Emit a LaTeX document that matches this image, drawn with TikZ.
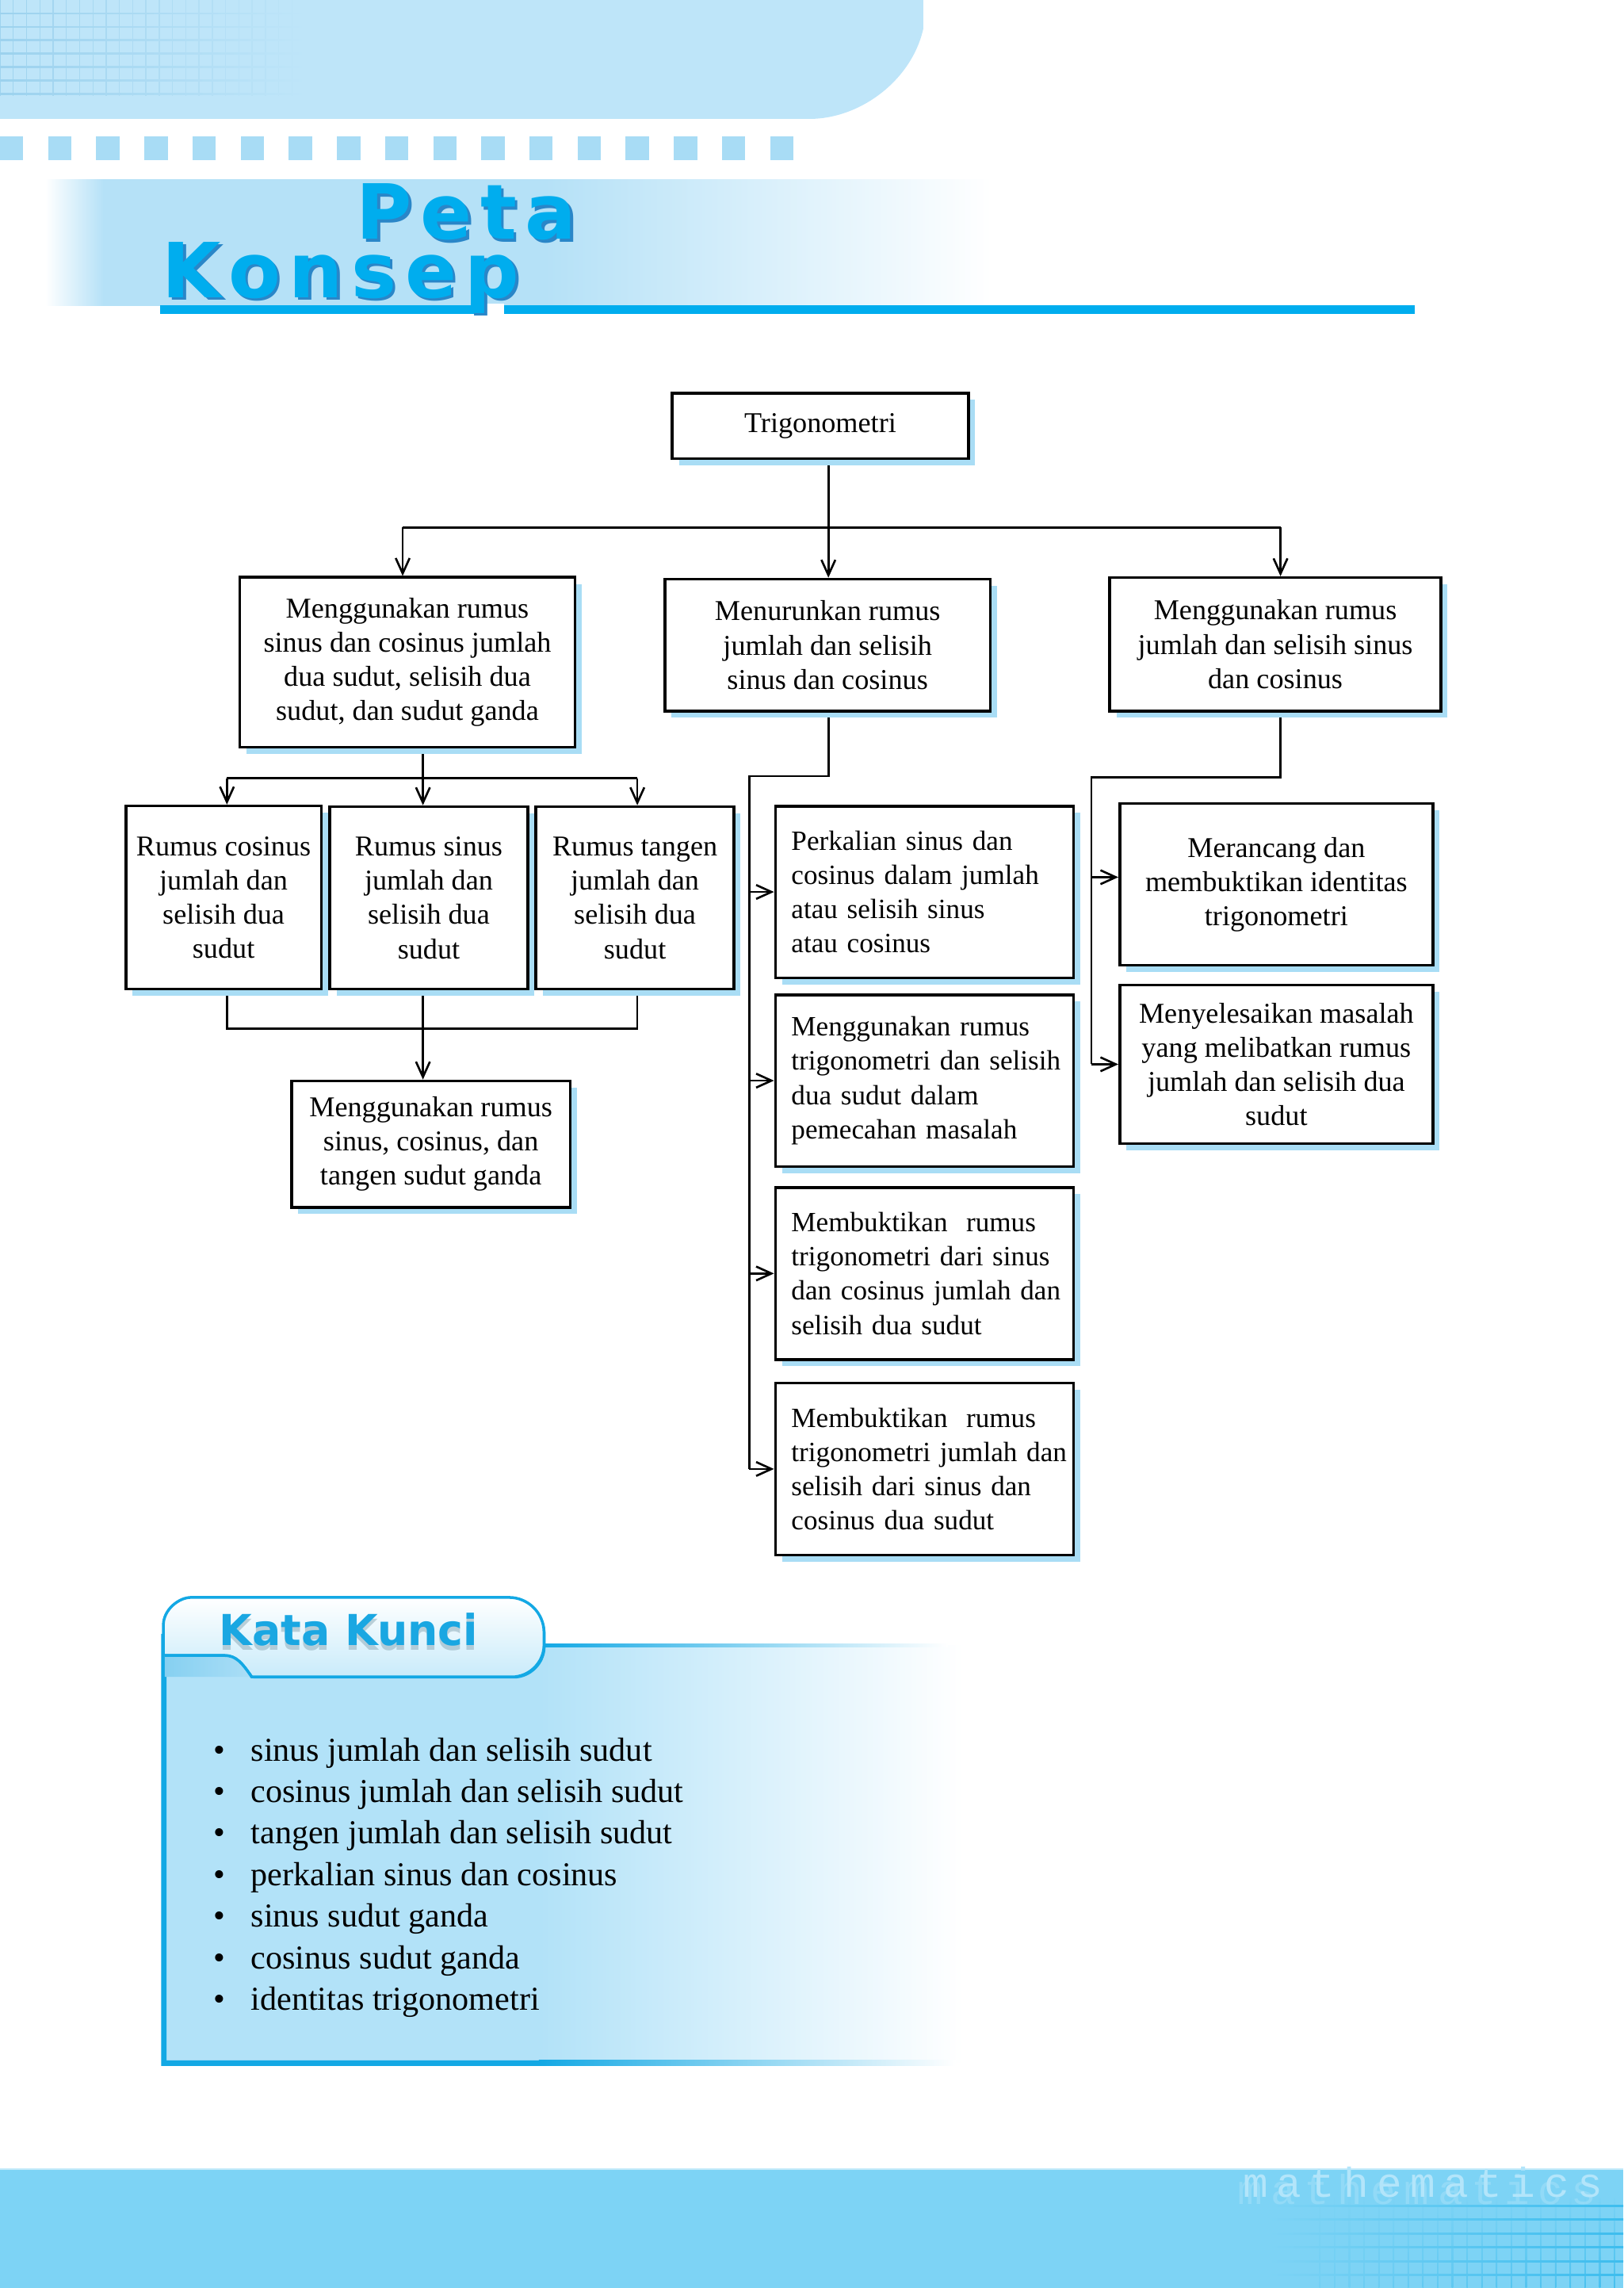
\documentclass[tikz,border=0pt]{standalone}
\usepackage{fontspec}
\setmainfont{Liberation Serif}
\newfontfamily\titlefont[LetterSpace=11]{DejaVu Sans}
\newfontfamily\kkfont{DejaVu Sans}
\newfontfamily\mathsfont[LetterSpace=20]{Liberation Mono}
\usetikzlibrary{arrows.meta,shadows,calc}
\pgfdeclarelayer{bg}
\pgfsetlayers{bg,main}
\definecolor{bannerc}{HTML}{BEE5F9}
\definecolor{gridc}{HTML}{9CD2EE}
\definecolor{sqc}{HTML}{A8DCF5}
\definecolor{bandc}{HTML}{B5E1F7}
\definecolor{cyanc}{HTML}{00ADEE}
\definecolor{darkc}{HTML}{2A86C8}
\definecolor{shadowc}{HTML}{A9DDF5}
\definecolor{panelc}{HTML}{B2E2F8}
\definecolor{borderc}{HTML}{13A8E4}
\definecolor{kkc}{HTML}{1AA7E2}
\definecolor{tabbot}{HTML}{C9EBFA}
\definecolor{swa}{HTML}{86D0F1}
\definecolor{swb}{HTML}{ABDEF6}
\definecolor{bandb}{HTML}{7DD3F5}
\definecolor{gridb}{HTML}{3DBDEE}
\definecolor{mathc}{HTML}{B3E5FA}
\tikzset{
  box/.style={draw=black, line width=1pt, fill=white, inner sep=0pt,
    general shadow={fill=shadowc, shadow xshift=2.4pt, shadow yshift=-2.4pt},
    font=\fontsize{10.3}{12.3}\selectfont},
  lbox/.style={align=left, text width=3.36cm, font=\fontsize{10}{12.3}\selectfont},
  conn/.style={draw=black, line width=0.75pt},
  arr/.style={-{Straight Barb[length=5.5pt,width=5pt]}},
  ttl/.style={font=\titlefont\bfseries\fontsize{27.3}{30}\selectfont, inner sep=0pt, anchor=base west},
  kitem/.style={font=\fontsize{12}{14}\selectfont, inner sep=0pt, anchor=base west},
  kkhead/.style={font=\kkfont\bfseries\fontsize{15.3}{18}\selectfont, inner sep=0pt, anchor=base west},
  mtext/.style={font=\mathsfont\fontsize{15}{17}\selectfont, text=mathc, anchor=base west, inner sep=0pt},
}
\newcommand\mybox[7][]{\node[box,align=center,#1,minimum width={(#5-#3)*0.0184cm},minimum height={(#6-#4)*0.0184cm},anchor=north west] (#2) at (#3,#4) {#7};}
\newcommand\lne[1]{\mbox{#1}}
\newcommand\outl[3]{%
  \node[ttl,text=darkc] (#1d) at ($(#2)+(1pt,-1pt)$) {#3};
  \node[ttl,text=cyanc] (#1) at (#2) {#3};}
\begin{document}
\begin{tikzpicture}[x=0.0184cm,y=-0.0184cm]
\useasboundingbox (0,0) rectangle (1113,1568.4);
% ---------- header banner ----------
\fill[bannerc] (0,0) -- (633,0) -- (633,20) .. controls (625,55) and (590,81.5) .. (555,81.5) -- (0,81.5) -- cycle;
\foreach \i in {0,...,22}{
  \pgfmathsetmacro\op{0.9-0.037*\i}
  \draw[gridc, line width=0.4pt, opacity=\op] (\i*9.1,0) -- (\i*9.1,66);
}
\foreach \j in {1,...,7}{
  \shade[left color=gridc, right color=bannerc] (0,\j*9.2-0.45) rectangle (210,\j*9.2+0.45);
}
\foreach \i in {0,...,16}{\fill[sqc] (\i*33,93.5) rectangle (\i*33+16,110);}
% title band
\shade[left color=white, right color=bandc] (31,123) rectangle (71,209.5);
\fill[bandc] (70.5,123) rectangle (374.5,209.5);
\shade[left color=bandc, right color=white] (374,123) rectangle (680,209.5);
\fill[cyanc] (110,209.2) rectangle (970,215.4);
\fill[white] (326.5,208) rectangle (345.5,216.5);
\outl{peta}{244,164}{Peta}
\outl{konsep}{111,203.8}{Konsep}
% ---------- boxes ----------
\mybox{T}{460}{268.5}{663}{313.5}{Trigonometri}
\mybox{L1}{163.4}{394.8}{393.4}{511.3}{Menggunakan rumus\\sinus dan cosinus jumlah\\dua sudut, selisih dua\\sudut, dan sudut ganda}
\mybox{M1}{455}{396}{678}{486.5}{Menurunkan rumus\\jumlah dan selisih\\sinus dan cosinus}
\mybox{R1}{760}{395}{987}{486.5}{Menggunakan rumus\\jumlah dan selisih sinus\\dan cosinus}
\mybox{A}{85.4}{551.5}{219.3}{677}{Rumus cosinus\\jumlah dan\\selisih dua\\sudut}
\mybox{B}{225.2}{552}{360.9}{677}{Rumus sinus\\jumlah dan\\selisih dua\\sudut}
\mybox{C}{366.5}{552}{502.3}{677}{Rumus tangen\\jumlah dan\\selisih dua\\sudut}
\mybox{D}{199}{740}{390}{826.6}{Menggunakan rumus\\sinus, cosinus, dan\\tangen sudut ganda}
\mybox[lbox]{P1}{530.7}{551.6}{735.2}{669.3}{\lne{Perkalian sinus dan}\\\lne{cosinus dalam jumlah}\\\lne{atau selisih sinus}\\\lne{atau cosinus}}
\mybox[lbox]{P2}{530.7}{681}{735.2}{798.6}{\lne{Menggunakan rumus}\\\lne{trigonometri dan selisih}\\\lne{dua sudut dalam}\\\lne{pemecahan masalah}}
\mybox[lbox]{P3}{530.7}{813}{735.2}{931}{\lne{Membuktikan\ \ rumus}\\\lne{trigonometri dari sinus}\\\lne{dan cosinus jumlah dan}\\\lne{selisih dua sudut}}
\mybox[lbox]{P4}{530.7}{947}{735.2}{1065}{\lne{Membuktikan\ \ rumus}\\\lne{trigonometri jumlah dan}\\\lne{selisih dari sinus dan}\\\lne{cosinus dua sudut}}
\mybox{Q1}{766.8}{549.9}{981.6}{660.8}{Merancang dan\\membuktikan identitas\\trigonometri}
\mybox{Q2}{766.8}{674.3}{981.6}{782.9}{Menyelesaikan masalah\\yang melibatkan rumus\\jumlah dan selisih dua\\sudut}
% ---------- connectors ----------
\coordinate (jT) at (568,361.6);
\coordinate (hL) at (276.1,361.6);
\coordinate (hR) at (878,361.6);
\coordinate (jL) at (290,533.4);
\coordinate (aL) at (155.6,533.4);
\coordinate (cL) at (437,533.4);
\coordinate (aB) at (155.6,705);
\coordinate (cB) at (437,705);
\coordinate (bB) at (290,705);
\coordinate (mJ) at (568,532);
\coordinate (mS) at (513.7,532);
\coordinate (rJ) at (878,532.8);
\coordinate (rS) at (748.4,532.8);
\coordinate (q1a) at ($(Q1.west)+(0,-5)$);
\begin{pgfonlayer}{bg}
\draw[conn] (T.south -| jT) -- (jT);
\draw[conn] (hL) -- (hR);
\draw[conn,arr] (hL) -- (hL |- L1.north);
\draw[conn,arr] (jT) -- (jT |- M1.north);
\draw[conn,arr] (hR) -- (hR |- R1.north);
\draw[conn] (L1.south -| jL) -- (jL);
\draw[conn] (aL) -- (cL);
\draw[conn,arr] (aL) -- (aL |- A.north);
\draw[conn,arr] (jL) -- (jL |- B.north);
\draw[conn,arr] (cL) -- (cL |- C.north);
\draw[conn] (A.south -| aB) -- (aB) -- (cB) -- (C.south -| cB);
\draw[conn,arr] (B.south -| bB) -- (D.north -| bB);
\draw[conn] (M1.south -| mJ) -- (mJ) -- (mS) -- (mS |- P4.west);
\draw[conn,arr] (mS |- P1.west) -- (P1.west);
\draw[conn,arr] (mS |- P2.west) -- (P2.west);
\draw[conn,arr] (mS |- P3.west) -- (P3.west);
\draw[conn,arr] (mS |- P4.west) -- (P4.west);
\draw[conn] (R1.south -| rJ) -- (rJ) -- (rS) -- (rS |- Q2.west);
\draw[conn,arr] (rS |- q1a) -- (q1a);
\draw[conn,arr] (rS |- Q2.west) -- (Q2.west);
\end{pgfonlayer}
% ---------- Kata Kunci panel ----------
\fill[panelc] (112,1128) rectangle (370.5,1414);
\shade[left color=panelc, right color=white] (370,1128) rectangle (660,1414);
\shade[left color=borderc, right color=white] (372,1127.1) rectangle (650,1128.9);
\fill[borderc] (370,1412.4) -- (370,1416.2) -- (110.5,1416.2) -- (110.5,1120) -- (114.2,1120) -- (114.2,1412.4) -- cycle;
\shade[left color=borderc, right color=white] (369.5,1412.4) rectangle (655,1416.2);
% tab
\fill[borderc] ($(112,1134.8)+(1.1,1.1)$) -- ++(0,-20.8) .. controls ++(0,-10.5) and ++(-10.5,0) .. ++(19,-19) -- ++(218,0) .. controls ++(13.2,0) and ++(0,-13.2) .. ++(24,24) -- ++(0,8.5) .. controls ++(0,12) and ++(12,0) .. ++(-22,22) -- ++(-178.4,0) -- ++(0,-14.7) -- cycle;
\shadedraw[top color=white, bottom color=tabbot, draw=borderc, line width=1pt]
  (112,1134.8) -- (112,1114) .. controls (112,1103.5) and (122.5,1095) .. (131,1095)
  -- (349,1095) .. controls (362.2,1095) and (373,1105.8) .. (373,1119)
  -- (373,1127.5) .. controls (373,1139.5) and (363,1149.5) .. (351,1149.5)
  -- (172.6,1149.5) .. controls (166,1140) and (162,1134.8) .. (153.8,1134.8) -- cycle;
\shade[left color=swa, right color=swb] (113,1134.8) -- (153.8,1134.8) .. controls (162,1134.8) and (166,1140) .. (172.6,1149.5) -- (113,1149.5) -- cycle;
\draw[borderc, line width=1pt] (113,1134.8) -- (153.8,1134.8) .. controls (162,1134.8) and (166,1140) .. (172.6,1149.5);
\node[kkhead, text=gray!45!shadowc, opacity=0.6] (kks) at (150,1131) {Kata Kunci};
\node[kkhead, text=kkc] (kkh) at (150,1128) {Kata Kunci};
\foreach \t [count=\k] in {sinus jumlah dan selisih sudut, cosinus jumlah dan selisih sudut, tangen jumlah dan selisih sudut, perkalian sinus dan cosinus, sinus sudut ganda, cosinus sudut ganda, identitas trigonometri}{
  \node[kitem] (kk\k) at (171.7,1178.5+28.5*\k) {\t};
  \node[kitem, anchor=base] (bu\k) at (150.6,1178.5+28.5*\k) {\textbullet};
}
% ---------- bottom band ----------
\fill[bandb] (0,1486.4) rectangle (1113,1568.4);
\draw[white!55!bandb, line width=0.6pt] (0,1487) -- (1113,1487);
\foreach \i in {0,...,20}{
  \pgfmathsetmacro\op{0.15+0.035*\i}
  \shade[top color=bandb, bottom color=gridb, opacity=\op] (905+\i*10.1-0.45,1505) rectangle (905+\i*10.1+0.45,1568.4);
}
\foreach \j in {0,...,5}{
  \shade[left color=bandb, right color=gridb] (870,1512+\j*9.5-0.45) rectangle (1113,1512+\j*9.5+0.45);
}
\node[mtext, opacity=0.4] (mte) at (848,1511) {mathematics};
\node[mtext] (mt) at (852,1506) {mathematics};
\end{tikzpicture}
\end{document}
